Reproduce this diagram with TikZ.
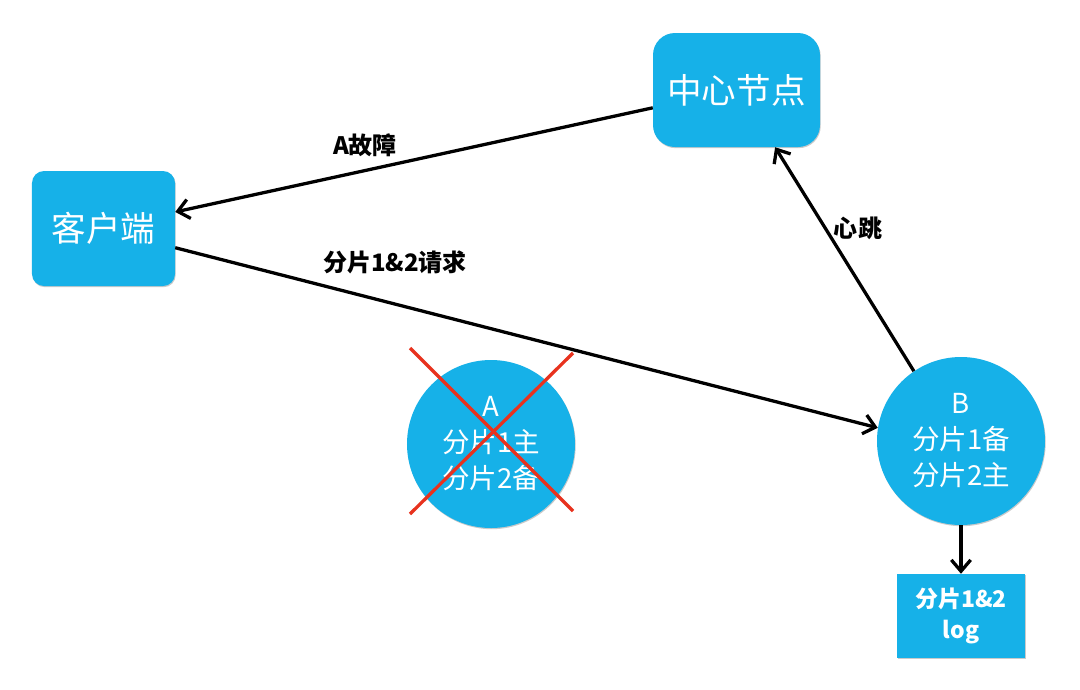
\documentclass[tikz,border=0pt]{standalone}
\usepackage{fontspec}
\setmainfont{Noto Sans CJK SC}
\usetikzlibrary{arrows.meta,shadows}
\definecolor{nodeblue}{HTML}{16B1E8}
\definecolor{crossred}{HTML}{E8321E}
\begin{document}
\begin{tikzpicture}[x=0.03cm,y=-0.03cm,
  box/.style={fill=nodeblue,draw=none,text=white,inner sep=0pt,align=center,
    drop shadow={shadow xshift=0.6pt,shadow yshift=-1pt,opacity=0.35,fill=black!60}},
  circ/.style={box,circle,minimum size=5.04cm,font=\fontsize{23.5}{30.7}\selectfont},
  conn/.style={line width=2.8pt,-{Straight Barb[length=0.34cm,width=0.58cm,line width=2.8pt]}},
  lbl/.style={font=\bfseries\fontsize{20.5}{24}\selectfont,inner sep=0pt},
  cross/.style={line width=2.8pt,crossred}]
\useasboundingbox (0,0) rectangle (1080,689);
\node[box,rounded corners=0.66cm,minimum width=5.01cm,minimum height=3.42cm,font=\fontsize{29.5}{34}\selectfont] (zx) at (736.5,90) {中心节点};
\node[box,rounded corners=0.36cm,minimum width=4.29cm,minimum height=3.45cm,font=\fontsize{29.5}{34}\selectfont] (kh) at (103.5,228.5) {客户端};
\node[circ] (a) at (491,444) {A\\分片1主\\分片2备};
\node[circ] (b) at (961,441) {B\\分片1备\\分片2主};
\node[box,minimum width=3.84cm,minimum height=2.52cm,font=\bfseries\fontsize{19.6}{27}\selectfont] (log) at (961,616) {分片1\&2\\log};
\draw[conn] (zx.192) -- (kh.13);
\draw[conn] (kh.-15) -- (b.171);
\draw[conn] (b.124) -- (zx.-56);
\draw[conn] (b.south) -- (log.north);
\node[lbl] (l1) at (365,145) {A故障};
\node[lbl] (l2) at (395,262) {分片1\&2请求};
\node[lbl] (l3) at (858,228) {心跳};
\coordinate (x1) at (410,348);
\coordinate (x2) at (573,511);
\coordinate (x3) at (573,353);
\coordinate (x4) at (410,514);
\draw[cross] (x1) -- (x2);
\draw[cross] (x3) -- (x4);
\end{tikzpicture}
\end{document}
